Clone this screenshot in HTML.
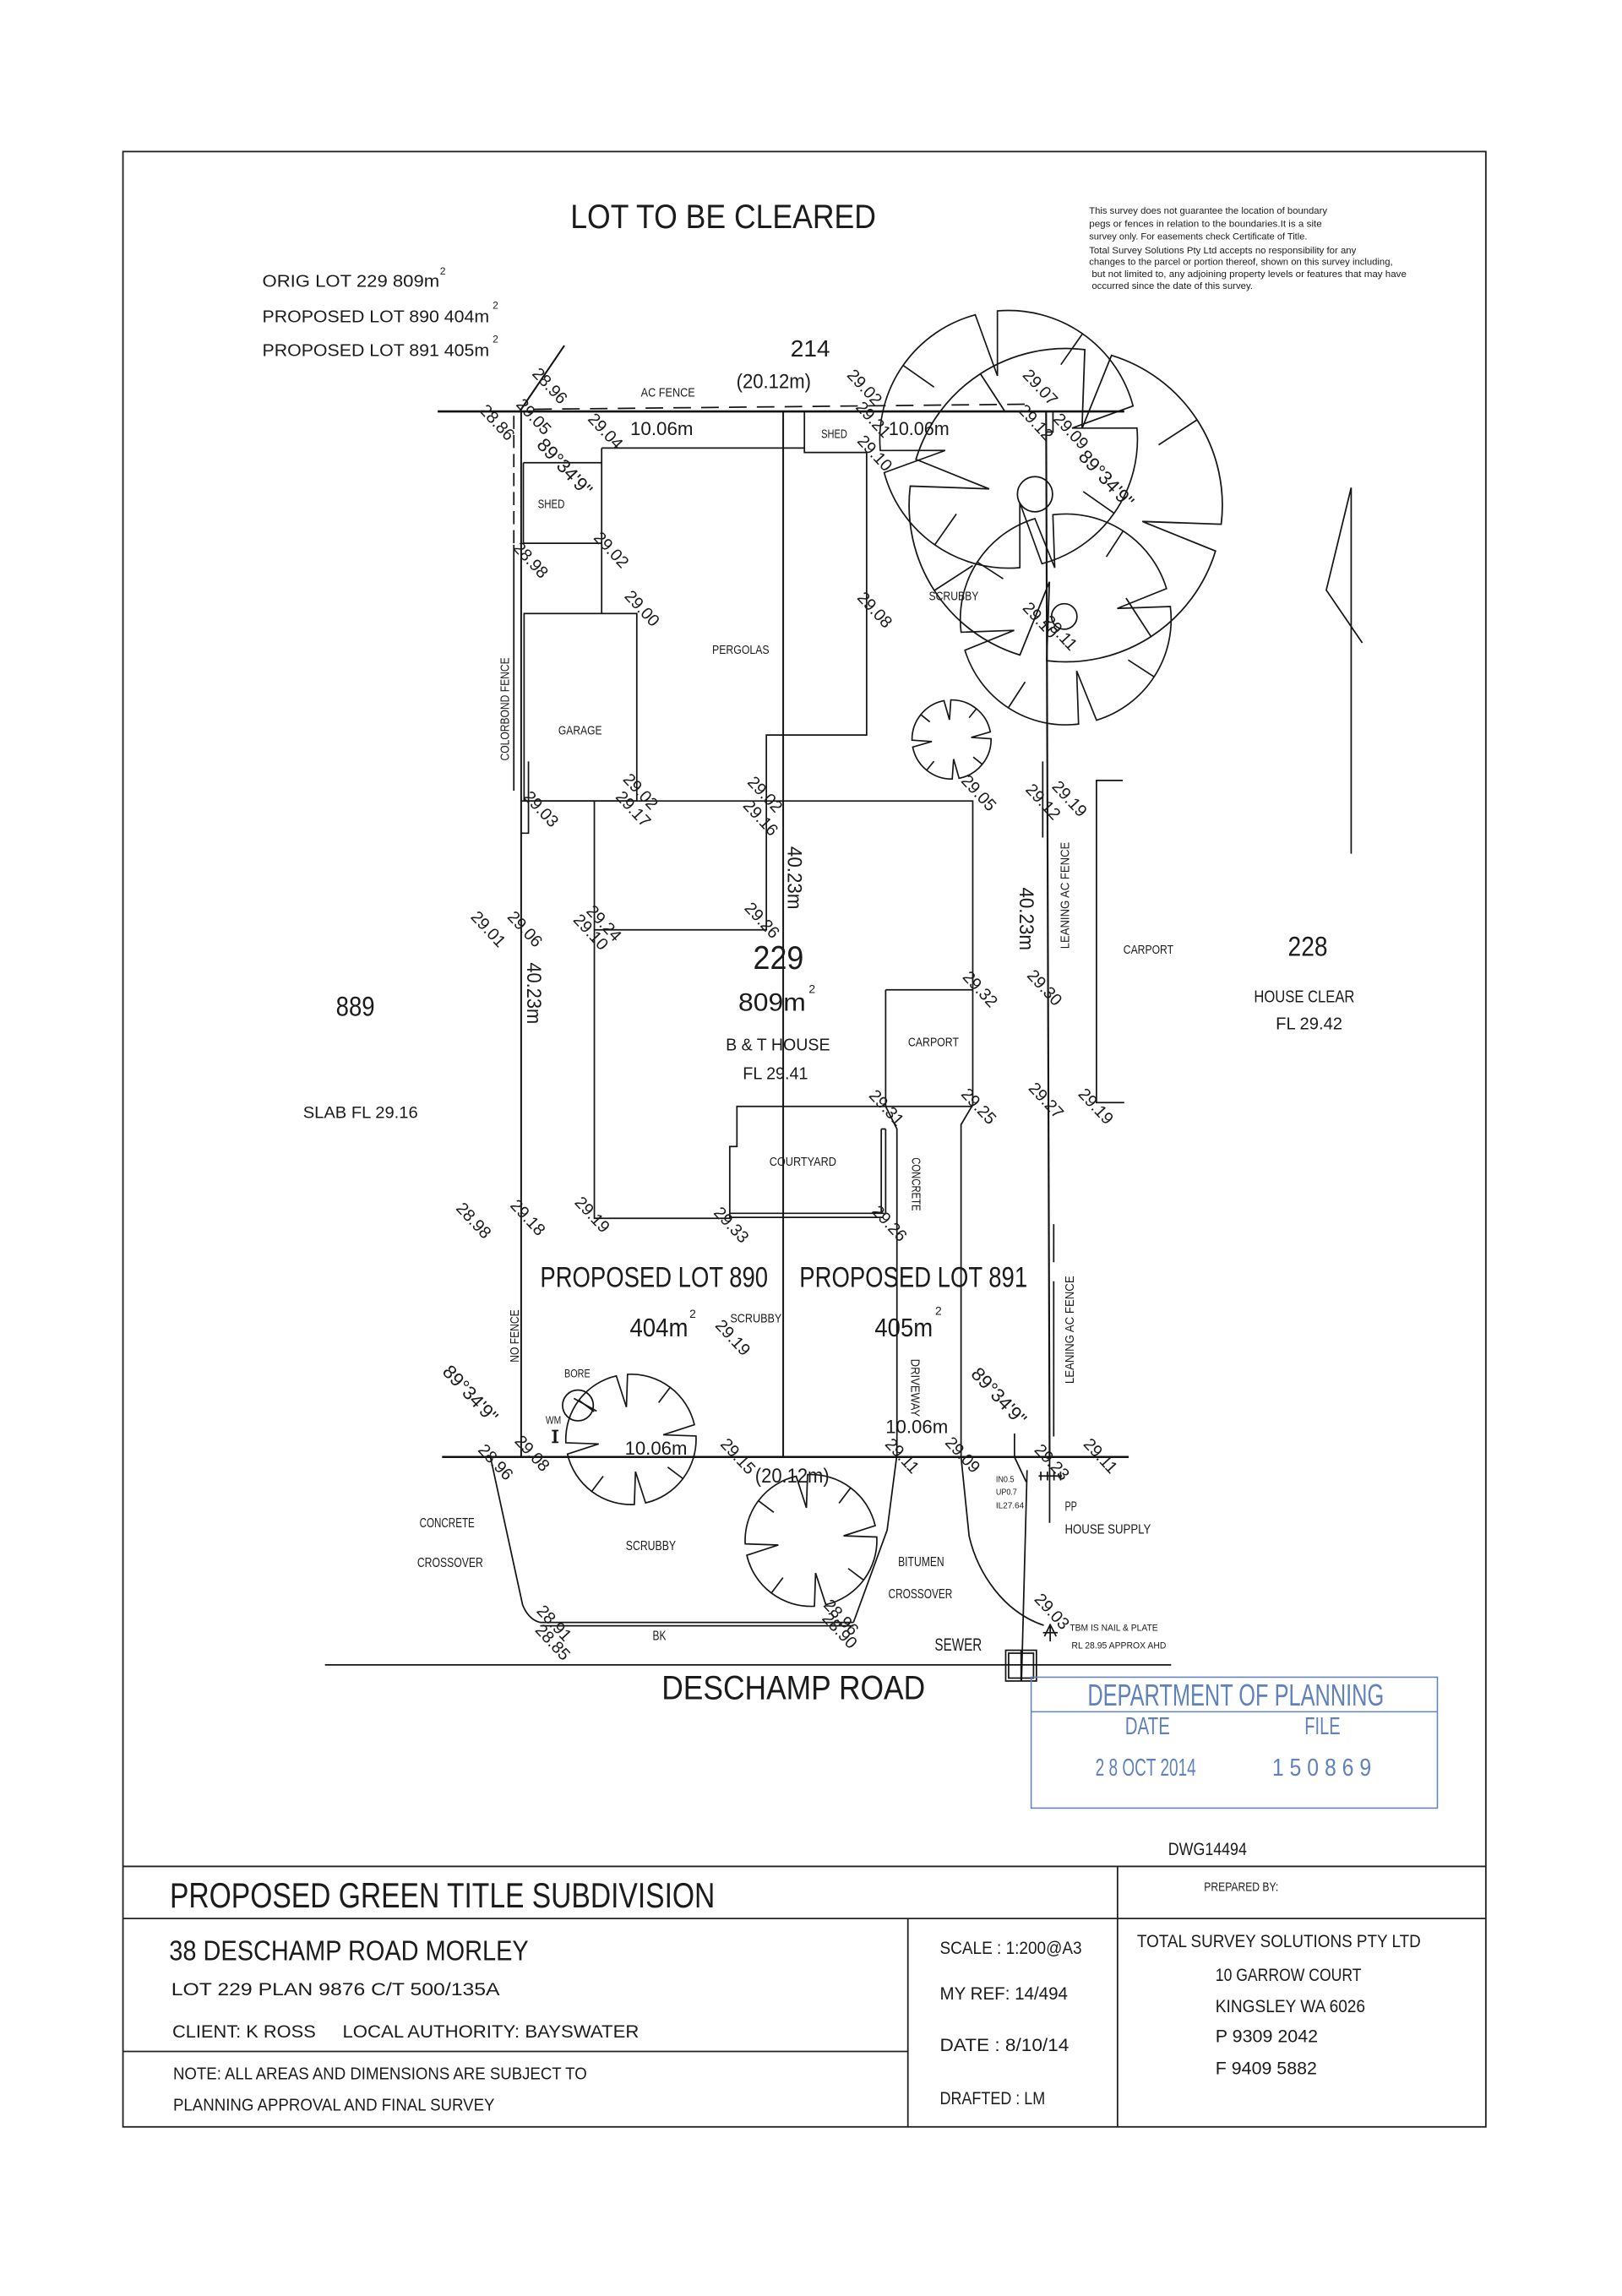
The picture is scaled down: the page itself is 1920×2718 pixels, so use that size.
<!DOCTYPE html>
<html><head><meta charset="utf-8"><title>Proposed Green Title Subdivision</title>
<style>
html,body{margin:0;padding:0;background:#fff;}
body{width:1920px;height:2718px;overflow:hidden;}
svg{display:block;}
.l{stroke:#141414;stroke-width:1.0;fill:none;}
.b{stroke:#111;stroke-width:1.5;fill:none;}
.tb{stroke:#222;stroke-width:1.05;fill:none;}
.st{stroke:#6283bd;stroke-width:0.9;fill:none;}
text{fill:#1b1b1b;font-family:"Liberation Sans",Arial,sans-serif;}
.e{font-size:11.5px;}
.br{font-size:13px;}
.s{font-size:8.5px;}
.blue{fill:#5f81bc;}
</style></head>
<body>
<svg xmlns="http://www.w3.org/2000/svg" width="1920" height="2718" viewBox="0 0 1108 1568" preserveAspectRatio="none">
<defs>
<g id="tree" fill="none" stroke="#161616">
<path d="M8.72,-99.62 A100,100 0 0,1 99.62,-8.72 L50,0 L99.62,8.72 A100,100 0 0,1 8.72,99.62 L0,50 L-8.72,99.62 A100,100 0 0,1 -99.62,8.72 L-50,0 L-99.62,-8.72 A100,100 0 0,1 -8.72,-99.62 L0,-50 Z"/>
<path d="M70.7,70.7 L50,50 M-70.7,70.7 L-50,50 M-70.7,-70.7 L-50,-50 M70.7,-70.7 L50,-50"/>
</g>
</defs>

<!-- border -->
<rect x="84" y="103.5" width="931" height="1349" class="tb"/>

<!-- header -->
<text x="389.7" y="155.7" font-size="22.9" textLength="208.7" lengthAdjust="spacingAndGlyphs">LOT TO BE CLEARED</text>
<g font-size="6.2">
<text x="744" y="146" textLength="162.6" lengthAdjust="spacingAndGlyphs">This survey does not guarantee the location of boundary</text>
<text x="744" y="155" textLength="159" lengthAdjust="spacingAndGlyphs">pegs or fences in relation to the boundaries.It is a site</text>
<text x="744" y="163.6" textLength="149" lengthAdjust="spacingAndGlyphs">survey only. For easements check Certificate of Title.</text>
<text x="744" y="173.1" textLength="182.4" lengthAdjust="spacingAndGlyphs">Total Survey Solutions Pty Ltd accepts no responsibility for any</text>
<text x="744" y="181" textLength="207.4" lengthAdjust="spacingAndGlyphs">changes to the parcel or portion thereof, shown on this survey including,</text>
<text x="745.8" y="189.2" textLength="215" lengthAdjust="spacingAndGlyphs">but not limited to, any adjoining property levels or features that may have</text>
<text x="745.8" y="197.3" textLength="110" lengthAdjust="spacingAndGlyphs">occurred since the date of this survey.</text>
</g>
<text x="179.2" y="195.9" font-size="11.8" textLength="121" lengthAdjust="spacingAndGlyphs">ORIG LOT 229 809m</text>
<text x="300.5" y="187.5" font-size="7">2</text>
<text x="179.2" y="220" font-size="11.8" textLength="155" lengthAdjust="spacingAndGlyphs">PROPOSED LOT 890 404m</text>
<text x="336.5" y="211" font-size="7">2</text>
<text x="179.2" y="243.2" font-size="11.8" textLength="155" lengthAdjust="spacingAndGlyphs">PROPOSED LOT 891 405m</text>
<text x="336.5" y="234" font-size="7">2</text>

<text x="540" y="243.5" font-size="16" textLength="27" lengthAdjust="spacingAndGlyphs">214</text>
<text x="503" y="265" font-size="14" textLength="51" lengthAdjust="spacingAndGlyphs">(20.12m)</text>
<text x="437.8" y="271" class="s" textLength="37" lengthAdjust="spacingAndGlyphs">AC FENCE</text>
<text x="430.5" y="297" font-size="13" textLength="43" lengthAdjust="spacingAndGlyphs">10.06m</text>
<text x="607" y="297" font-size="13" textLength="41.5" lengthAdjust="spacingAndGlyphs">10.06m</text>

<!-- trees -->
<use href="#tree" transform="translate(689,300) rotate(-10) scale(0.88)" stroke-width="1.1"/>
<use href="#tree" transform="translate(728,345) rotate(12) scale(1.07)" stroke-width="0.95"/>
<use href="#tree" transform="translate(728,423) rotate(-12) scale(0.72)" stroke-width="1.35"/>
<use href="#tree" transform="translate(650,505) rotate(-6) scale(0.27)" stroke-width="3.6"/>
<use href="#tree" transform="translate(431,983) rotate(-8) scale(0.445)" stroke-width="2.2"/>
<use href="#tree" transform="translate(554,1052) rotate(-8) scale(0.45)" stroke-width="2.2"/>
<circle cx="707" cy="337.5" r="12" class="l"/>
<circle cx="727" cy="421" r="8.7" class="l"/>

<!-- boundaries -->
<path class="b" d="M299,281 H768"/>
<path class="b" d="M302,995 H771"/>
<path class="l" style="stroke-width:1.15" d="M356,281 V995"/>
<path class="l" style="stroke-width:1.15" d="M535,281 V995"/>
<path class="l" style="stroke-width:1.25" d="M714.6,281 L717,995"/>
<path class="l" d="M714.6,281 H719.3 V295 H714.6"/>
<path class="l" d="M712.3,520 V572"/>
<path class="l" d="M719.8,836 V862 M719.8,875 V981"/>
<path class="l" style="stroke-width:1.2" d="M385.5,236 L355,281"/>
<path class="l" stroke-dasharray="12 7" d="M365,279.5 L706,276"/>
<path class="l" stroke-dasharray="9 4" d="M351,284 V372"/>
<path class="l" d="M351,372 V540"/>
<path class="l" d="M361,520 V569 H356"/>

<!-- structures -->
<path class="l" d="M549.5,281 V309 H592"/>
<path class="l" d="M411,306 H549.5"/>
<path class="l" d="M411,306 V419"/>
<path class="l" d="M357.5,316 H411 M357.5,371 H411 M357.5,316 V371"/>
<rect x="358" y="419" width="77" height="128" class="l"/>
<path class="l" d="M592,309 V502 H523.5 V635 H406"/>
<path class="l" d="M356,547 H664.5 V754.5"/>
<path class="l" d="M406,547 V832 H498.5 V783 H503.4 V755.6 H664.5"/>
<path class="l" d="M605,676 H664.5 M605,676 V755.6"/>
<path class="l" d="M498.5,828.6 H604 M498.5,831.4 H603"/>
<path class="l" d="M602,771 V829 M605,771 V829 M602,771 H605"/>
<path class="l" d="M605,755.6 L612.7,771 V995"/>
<path class="l" d="M664.5,754.5 L656.5,768 V995"/>

<!-- crossovers -->
<path class="l" d="M612.5,995 L606,1045 L583,1108"/>
<path class="l" d="M656.5,995 L662,1049 C668,1075 686,1101 713,1110"/>
<path class="l" d="M335,995 L357,1096 Q361,1106 369,1108"/>
<path class="l" d="M369,1108 H583 M369,1110.3 H583"/>
<path class="l" d="M222,1137 H800"/>
<rect x="687" y="1127" width="21" height="21" class="l"/>
<rect x="689" y="1129" width="17" height="17" class="l"/>
<path class="l" d="M697.5,1127 V1148"/>
<path class="l" d="M693,979 V995 L701,1012"/>
<path class="l" d="M701.6,1004 L697.8,1148"/>
<path class="l" d="M717,995 V1040 M709.5,1008 H725.5 M711,1005 V1011 M715.5,1005 V1011 M720,1005 V1011 M724.5,1005 V1011"/>
<path class="l" d="M717.4,1109 V1121 M712.5,1115 H722.5 M717.4,1109.5 L713.5,1117.5 M717.4,1109.5 L721.5,1117.5"/>
<circle cx="394.8" cy="959.8" r="10.5" class="l"/>
<path class="l" d="M392,955 L407.6,963.7"/>
<rect x="378.3" y="977" width="1.8" height="8" fill="#111"/>
<path class="l" d="M377,977 H381.5 M377,985 H381.5"/>

<!-- north arrow & 228 -->
<path class="l" d="M923,333 V583 M923,333 L906,403 L930.6,439"/>
<path class="l" d="M767,533 H749 V753 H768"/>

<!-- labels -->
<text x="486.5" y="446.5" class="s" textLength="39" lengthAdjust="spacingAndGlyphs">PERGOLAS</text>
<text x="381.4" y="501.6" class="s" textLength="29.8" lengthAdjust="spacingAndGlyphs">GARAGE</text>
<text x="561" y="299" class="s" textLength="17.7" lengthAdjust="spacingAndGlyphs">SHED</text>
<text x="367.4" y="347" class="s" textLength="18.3" lengthAdjust="spacingAndGlyphs">SHED</text>
<text x="634.5" y="410" class="s" textLength="34" lengthAdjust="spacingAndGlyphs">SCRUBBY</text>
<text class="s" transform="translate(347.6,519.5) rotate(-90)" textLength="70.5" lengthAdjust="spacingAndGlyphs">COLORBOND FENCE</text>
<text class="s" transform="translate(730.4,648) rotate(-90)" textLength="73" lengthAdjust="spacingAndGlyphs">LEANING AC FENCE</text>
<text class="s" transform="translate(733.4,945) rotate(-90)" textLength="73.7" lengthAdjust="spacingAndGlyphs">LEANING AC FENCE</text>
<text class="s" transform="translate(354.2,930.4) rotate(-90)" textLength="36" lengthAdjust="spacingAndGlyphs">NO FENCE</text>
<text class="s" transform="translate(622.5,928) rotate(90)" textLength="39.5" lengthAdjust="spacingAndGlyphs">DRIVEWAY</text>
<text class="s" transform="translate(623,790.5) rotate(90)" textLength="36.5" lengthAdjust="spacingAndGlyphs">CONCRETE</text>
<text font-size="14" transform="translate(360.2,657.3) rotate(90)" textLength="42" lengthAdjust="spacingAndGlyphs">40.23m</text>
<text font-size="14" transform="translate(538,578) rotate(90)" textLength="43" lengthAdjust="spacingAndGlyphs">40.23m</text>
<text font-size="14" transform="translate(696.5,606) rotate(90)" textLength="43" lengthAdjust="spacingAndGlyphs">40.23m</text>

<text x="514.5" y="661.7" font-size="22.5" textLength="34.5" lengthAdjust="spacingAndGlyphs">229</text>
<text x="504.4" y="690.4" font-size="17" textLength="46" lengthAdjust="spacingAndGlyphs">809m</text>
<text x="552.5" y="678" font-size="8">2</text>
<text x="495.8" y="717.5" font-size="11.5" textLength="71.2" lengthAdjust="spacingAndGlyphs">B &amp; T HOUSE</text>
<text x="507.4" y="737" font-size="11.5" textLength="44.6" lengthAdjust="spacingAndGlyphs">FL 29.41</text>
<text x="229.5" y="693.6" font-size="18.5" textLength="26.5" lengthAdjust="spacingAndGlyphs">889</text>
<text x="207" y="763.5" font-size="11" textLength="78.5" lengthAdjust="spacingAndGlyphs">SLAB FL 29.16</text>
<text x="620.3" y="714.6" class="s" textLength="34.7" lengthAdjust="spacingAndGlyphs">CARPORT</text>
<text x="525.6" y="796.2" class="s" textLength="45.7" lengthAdjust="spacingAndGlyphs">COURTYARD</text>
<text x="767.4" y="651.4" class="s" textLength="34.2" lengthAdjust="spacingAndGlyphs">CARPORT</text>
<text x="879.8" y="652.7" font-size="18.8" textLength="27.1" lengthAdjust="spacingAndGlyphs">228</text>
<text x="856.6" y="684.6" font-size="11.5" textLength="68.7" lengthAdjust="spacingAndGlyphs">HOUSE CLEAR</text>
<text x="871.5" y="703" font-size="11.5" textLength="45.5" lengthAdjust="spacingAndGlyphs">FL 29.42</text>

<text x="369" y="879" font-size="20" textLength="155.6" lengthAdjust="spacingAndGlyphs">PROPOSED LOT 890</text>
<text x="546.1" y="879" font-size="20" textLength="155.7" lengthAdjust="spacingAndGlyphs">PROPOSED LOT 891</text>
<text x="430.2" y="912.7" font-size="17.5" textLength="39.8" lengthAdjust="spacingAndGlyphs">404m</text>
<text x="471" y="900" font-size="8">2</text>
<text x="597.5" y="912.7" font-size="17.5" textLength="39.7" lengthAdjust="spacingAndGlyphs">405m</text>
<text x="638.8" y="898" font-size="8">2</text>
<text x="498.8" y="903" class="s" textLength="35.2" lengthAdjust="spacingAndGlyphs">SCRUBBY</text>
<text x="385.5" y="940.7" font-size="8" textLength="17.7" lengthAdjust="spacingAndGlyphs">BORE</text>
<text x="372.7" y="972.3" font-size="7.5" textLength="10.6" lengthAdjust="spacingAndGlyphs">WM</text>
<text x="426.8" y="993.5" font-size="13" textLength="42.6" lengthAdjust="spacingAndGlyphs">10.06m</text>
<text x="604.9" y="978.8" font-size="13" textLength="42.7" lengthAdjust="spacingAndGlyphs">10.06m</text>
<text x="515.8" y="1012.5" font-size="14" textLength="50.7" lengthAdjust="spacingAndGlyphs">(20.12m)</text>
<text x="286.6" y="1043" font-size="9" textLength="37.6" lengthAdjust="spacingAndGlyphs">CONCRETE</text>
<text x="285" y="1070" font-size="9" textLength="45" lengthAdjust="spacingAndGlyphs">CROSSOVER</text>
<text x="427.5" y="1058.5" font-size="9" textLength="34.2" lengthAdjust="spacingAndGlyphs">SCRUBBY</text>
<text x="445.8" y="1120" font-size="9" textLength="9.2" lengthAdjust="spacingAndGlyphs">BK</text>
<text x="613.5" y="1069.5" font-size="9" textLength="31.5" lengthAdjust="spacingAndGlyphs">BITUMEN</text>
<text x="606.8" y="1091.5" font-size="9" textLength="43.8" lengthAdjust="spacingAndGlyphs">CROSSOVER</text>
<text x="638.5" y="1127.3" font-size="12" textLength="32.2" lengthAdjust="spacingAndGlyphs">SEWER</text>
<text x="680.3" y="1012.2" font-size="6" textLength="12.5" lengthAdjust="spacingAndGlyphs">IN0.5</text>
<text x="680.3" y="1020.8" font-size="6" textLength="14.4" lengthAdjust="spacingAndGlyphs">UP0.7</text>
<text x="680.3" y="1030" font-size="6" textLength="19.2" lengthAdjust="spacingAndGlyphs">IL27.64</text>
<text x="727.4" y="1031.7" font-size="9" textLength="8.3" lengthAdjust="spacingAndGlyphs">PP</text>
<text x="727.4" y="1047.3" font-size="9" textLength="58.8" lengthAdjust="spacingAndGlyphs">HOUSE SUPPLY</text>
<text x="730.8" y="1113.8" font-size="6.5" textLength="60.2" lengthAdjust="spacingAndGlyphs">TBM IS NAIL &amp; PLATE</text>
<text x="732" y="1125.7" font-size="6.5" textLength="64.6" lengthAdjust="spacingAndGlyphs">RL 28.95 APPROX AHD</text>
<text x="452" y="1160.5" font-size="23" textLength="180" lengthAdjust="spacingAndGlyphs">DESCHAMP  ROAD</text>

<!-- bearings -->
<text class="br" transform="translate(366,304.3) rotate(47)">89°34'9&quot;</text>
<text class="br" transform="translate(736,312.3) rotate(47)">89°34'9&quot;</text>
<text class="br" transform="translate(301.6,937.3) rotate(47)">89°34'9&quot;</text>
<text class="br" transform="translate(662.6,938.9) rotate(47)">89°34'9&quot;</text>

<!-- elevation labels -->
<g class="e">
<text transform="translate(363,255.6) rotate(47)">28.96</text>
<text transform="translate(327,280.6) rotate(47)">28.86</text>
<text transform="translate(352,276.6) rotate(47)">29.05</text>
<text transform="translate(401,286.6) rotate(47)">29.04</text>
<text transform="translate(350,374.6) rotate(47)">28.98</text>
<text transform="translate(405,367.6) rotate(47)">29.02</text>
<text transform="translate(426,407.6) rotate(47)">29.00</text>
<text transform="translate(425,532.6) rotate(47)">29.02</text>
<text transform="translate(420,544.6) rotate(47)">29.17</text>
<text transform="translate(510,534.6) rotate(47)">29.02</text>
<text transform="translate(507,550.6) rotate(47)">29.16</text>
<text transform="translate(357,544.6) rotate(47)">29.03</text>
<text transform="translate(400,622.6) rotate(47)">29.24</text>
<text transform="translate(391,628.6) rotate(47)">29.10</text>
<text transform="translate(508,620.6) rotate(47)">29.26</text>
<text transform="translate(346,626.6) rotate(47)">29.06</text>
<text transform="translate(321,626.6) rotate(47)">29.01</text>
<text transform="translate(657,667.6) rotate(47)">29.32</text>
<text transform="translate(593,748.6) rotate(47)">29.31</text>
<text transform="translate(656,747.6) rotate(47)">29.25</text>
<text transform="translate(392,821.6) rotate(47)">29.19</text>
<text transform="translate(487,828.6) rotate(47)">29.33</text>
<text transform="translate(595,827.6) rotate(47)">29.26</text>
<text transform="translate(311,825.6) rotate(47)">28.98</text>
<text transform="translate(348,823.6) rotate(47)">29.18</text>
<text transform="translate(578,256.6) rotate(47)">29.02</text>
<text transform="translate(584,278.6) rotate(47)">29.21</text>
<text transform="translate(585,301.6) rotate(47)">29.10</text>
<text transform="translate(698,256.6) rotate(47)">29.07</text>
<text transform="translate(695,280.6) rotate(47)">29.12</text>
<text transform="translate(719,286.6) rotate(47)">29.09</text>
<text transform="translate(585,408.6) rotate(47)">29.08</text>
<text transform="translate(698,415.6) rotate(47)">29.10</text>
<text transform="translate(712,424.6) rotate(47)">29.11</text>
<text transform="translate(656,533.6) rotate(47)">29.05</text>
<text transform="translate(700,539.6) rotate(47)">29.12</text>
<text transform="translate(718,537.6) rotate(47)">29.19</text>
<text transform="translate(701,666.6) rotate(47)">29.30</text>
<text transform="translate(702,743.6) rotate(47)">29.27</text>
<text transform="translate(736,747.6) rotate(47)">29.19</text>
<text transform="translate(488,905.6) rotate(47)">29.19</text>
<text transform="translate(326,990.6) rotate(47)">28.96</text>
<text transform="translate(351,984.6) rotate(47)">29.08</text>
<text transform="translate(491.5,986.6) rotate(47)">29.15</text>
<text transform="translate(604,986.6) rotate(47)">29.11</text>
<text transform="translate(645,985.6) rotate(47)">29.09</text>
<text transform="translate(706,990.6) rotate(47)">29.23</text>
<text transform="translate(739.5,986.6) rotate(47)">29.11</text>
<text transform="translate(366,1100.6) rotate(47)">28.91</text>
<text transform="translate(365,1113.6) rotate(47)">28.85</text>
<text transform="translate(562,1096.6) rotate(47)">28.96</text>
<text transform="translate(561,1105.6) rotate(47)">28.90</text>
<text transform="translate(706,1092.6) rotate(47)">29.03</text>
</g>

<!-- stamp -->
<rect x="704.4" y="1145.4" width="277.5" height="89.4" class="st"/>
<path class="st" d="M704.4,1169 H981.9"/>
<text x="742.9" y="1164.7" font-size="21" class="blue" textLength="202.5" lengthAdjust="spacingAndGlyphs">DEPARTMENT OF PLANNING</text>
<text x="768.5" y="1184.5" font-size="16.5" class="blue" textLength="30.7" lengthAdjust="spacingAndGlyphs">DATE</text>
<text x="891.2" y="1184.5" font-size="16.5" class="blue" textLength="24.4" lengthAdjust="spacingAndGlyphs">FILE</text>
<text x="748.3" y="1212.7" font-size="16.5" class="blue" textLength="68.7" lengthAdjust="spacingAndGlyphs">2 8 OCT 2014</text>
<text x="869" y="1212.7" font-size="16.5" class="blue" textLength="67.7" lengthAdjust="spacingAndGlyphs">1 5 0 8 6 9</text>

<!-- title block -->
<text x="798" y="1266.8" font-size="12" textLength="53.7" lengthAdjust="spacingAndGlyphs">DWG14494</text>
<path class="tb" d="M84,1274.6 H1015 M84,1310.2 H1015 M763.4,1274.6 V1452.5 M620.2,1310.2 V1452.5 M84,1401 H620.2"/>
<text x="116" y="1302.5" font-size="24" textLength="372.4" lengthAdjust="spacingAndGlyphs">PROPOSED GREEN TITLE SUBDIVISION</text>
<text x="822.5" y="1291.5" font-size="8.5" textLength="50.8" lengthAdjust="spacingAndGlyphs">PREPARED BY:</text>
<text x="115.6" y="1338.8" font-size="19.5" textLength="245.5" lengthAdjust="spacingAndGlyphs">38 DESCHAMP ROAD MORLEY</text>
<text x="117" y="1362.5" font-size="12.5" textLength="224.4" lengthAdjust="spacingAndGlyphs">LOT 229 PLAN 9876 C/T 500/135A</text>
<text x="117.7" y="1391.5" font-size="12.5" textLength="98" lengthAdjust="spacingAndGlyphs">CLIENT: K ROSS</text>
<text x="234" y="1391.5" font-size="12.5" textLength="202.5" lengthAdjust="spacingAndGlyphs">LOCAL AUTHORITY: BAYSWATER</text>
<text x="118.3" y="1420" font-size="11.5" textLength="282.6" lengthAdjust="spacingAndGlyphs">NOTE: ALL AREAS AND DIMENSIONS ARE SUBJECT TO</text>
<text x="118.3" y="1441.3" font-size="11.5" textLength="219.6" lengthAdjust="spacingAndGlyphs">PLANNING APPROVAL AND FINAL SURVEY</text>
<text x="642" y="1334.3" font-size="12" textLength="97" lengthAdjust="spacingAndGlyphs">SCALE : 1:200@A3</text>
<text x="642" y="1365.4" font-size="12" textLength="87.4" lengthAdjust="spacingAndGlyphs">MY REF: 14/494</text>
<text x="642" y="1400.8" font-size="12" textLength="88.2" lengthAdjust="spacingAndGlyphs">DATE : 8/10/14</text>
<text x="642" y="1437" font-size="12" textLength="72" lengthAdjust="spacingAndGlyphs">DRAFTED : LM</text>
<text x="776.7" y="1329.7" font-size="12" textLength="193.8" lengthAdjust="spacingAndGlyphs">TOTAL SURVEY SOLUTIONS PTY LTD</text>
<text x="830.3" y="1352.8" font-size="12" textLength="99.7" lengthAdjust="spacingAndGlyphs">10 GARROW COURT</text>
<text x="830.3" y="1374.3" font-size="12" textLength="102.3" lengthAdjust="spacingAndGlyphs">KINGSLEY WA 6026</text>
<text x="830.3" y="1394.7" font-size="12" textLength="70" lengthAdjust="spacingAndGlyphs">P 9309 2042</text>
<text x="830.3" y="1416.6" font-size="12" textLength="69.3" lengthAdjust="spacingAndGlyphs">F 9409 5882</text>
</svg>
</body></html>
